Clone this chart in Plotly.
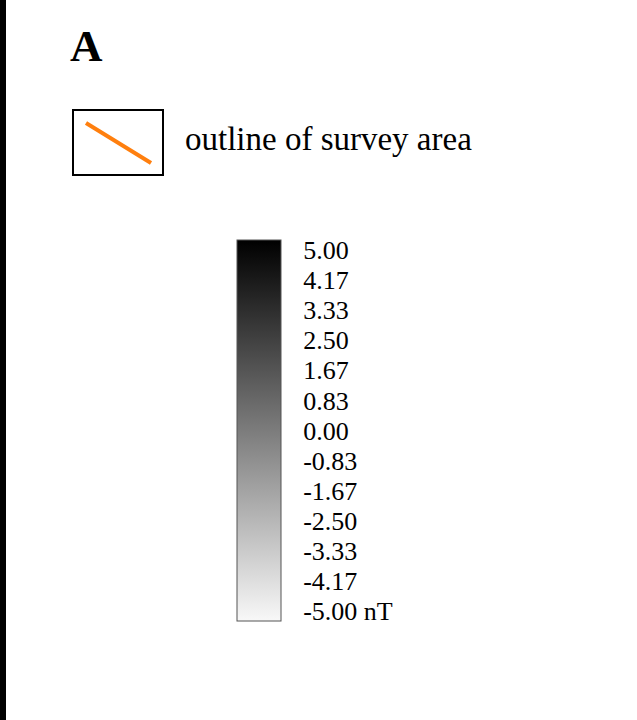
import plotly.graph_objects as go

W, H = 637, 720

panel_label = "A"
legend_label = "outline of survey area"
legend_color = "#ff7f0e"
tick_values = [5.00, 4.17, 3.33, 2.50, 1.67, 0.83, 0.00, -0.83, -1.67, -2.50, -3.33, -4.17, -5.00]
tick_labels = ["5.00", "4.17", "3.33", "2.50", "1.67", "0.83", "0.00", "-0.83", "-1.67",
               "-2.50", "-3.33", "-4.17", "-5.00 nT"]
unit = "nT"

FONT = "Liberation Serif, Times New Roman, serif"


def px(x):
    return x / W


def py(y):
    return 1 - y / H


fig = go.Figure()

fig.add_trace(go.Scatter(
    x=[0] * len(tick_values), y=tick_values, mode="markers",
    marker=dict(
        color=tick_values, opacity=0, cmin=-5.28, cmax=5.28,
        colorscale=[[0, "#f8f8f8"], [1, "#000000"]],
        showscale=True,
        colorbar=dict(
            xref="container", yref="container",
            x=px(237), xanchor="left", y=py(240), yanchor="top",
            xpad=0, ypad=0,
            thickness=44, thicknessmode="pixels",
            len=381, lenmode="pixels",
            outlinecolor="#555555", outlinewidth=1,
            tickvals=tick_values, ticktext=tick_labels,
            ticks="outside", ticklen=17, tickcolor="rgba(0,0,0,0)",
            tickfont=dict(family=FONT, size=26, color="#000000"),
        ),
    ),
    hoverinfo="skip", showlegend=False,
))

shapes = [
    # left black edge
    dict(type="rect", xref="paper", yref="paper", x0=0, x1=px(6), y0=0, y1=1,
         fillcolor="#000000", line=dict(width=0)),
    # legend box
    dict(type="rect", xref="paper", yref="paper", x0=px(73), x1=px(163), y0=py(175), y1=py(110),
         fillcolor="white", line=dict(color="#000000", width=2)),
    # legend line
    dict(type="line", xref="paper", yref="paper", x0=px(86), y0=py(123), x1=px(151), y1=py(163),
         line=dict(color=legend_color, width=4)),
]

annotations = [
    dict(text="<b>%s</b>" % panel_label, xref="paper", yref="paper", x=px(68), y=py(46),
         xanchor="left", yanchor="middle", showarrow=False,
         font=dict(family=FONT, size=45, color="#000000")),
    dict(text=legend_label, xref="paper", yref="paper", x=px(183), y=py(139),
         xanchor="left", yanchor="middle", showarrow=False,
         font=dict(family=FONT, size=33, color="#000000")),
]

fig.update_layout(
    width=W, height=H,
    margin=dict(l=0, r=0, t=0, b=0, autoexpand=False),
    paper_bgcolor="white", plot_bgcolor="white",
    xaxis=dict(visible=False), yaxis=dict(visible=False),
    shapes=shapes, annotations=annotations,
    hovermode=False,
)

fig.write_html("out.html", config={"displayModeBar": False},
               post_script="document.body.style.margin='0px';")
